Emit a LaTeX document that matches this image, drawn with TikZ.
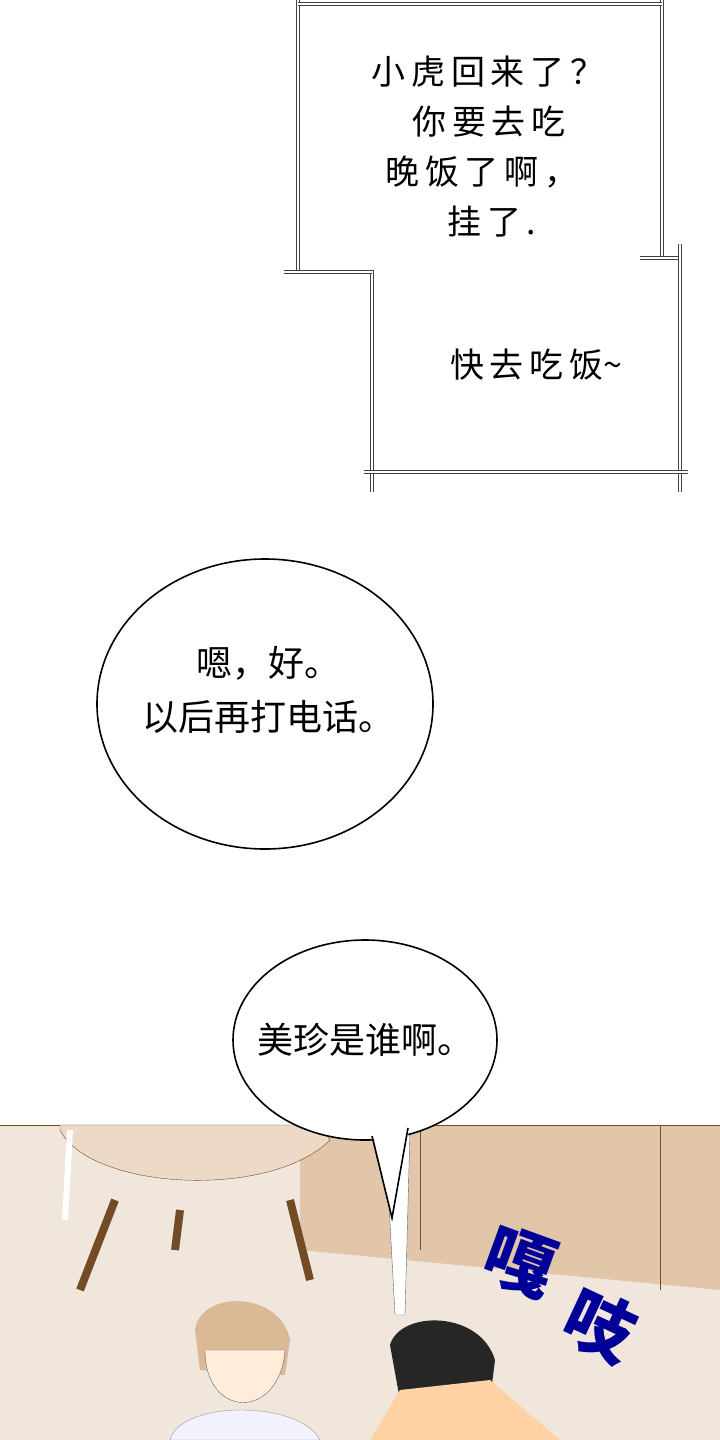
\documentclass[tikz,border=0pt]{standalone}
\usepackage{fontspec}
\newfontfamily\cjk{Noto Sans CJK SC}
\begin{document}
\begin{tikzpicture}[x=1pt,y=-1pt,
  txt/.style={font=\cjk\fontsize{34}{38}\selectfont,align=center,inner sep=0},
  btxt/.style={font=\cjk\fontsize{36}{54}\selectfont,align=center,inner sep=0},
  frame/.style={draw=black!75,line width=1.2pt,double=white,double distance=2.5pt},
  bubble/.style={draw=black,line width=1.6pt,fill=white},
  sfx/.style={font=\cjk\bfseries\fontsize{70}{70}\selectfont,text=blue!60!black}]
\useasboundingbox (0,0) rectangle (720,1440);
\fill[white] (0,0) rectangle (720,1440);
% top caption frames
\draw[frame] (298,0) -- (298,272) -- (372,272) -- (372,492);
\draw[frame] (662,0) -- (662,258);
\draw[frame] (298,4) -- (662,4);
\draw[frame] (284,272) -- (372,272);
\draw[frame] (640,258) -- (682,258);
\draw[frame] (680,244) -- (680,492);
\draw[frame] (364,472) -- (688,472);
\node[txt] (t1) at (488,72) {小\,虎\,回\,来\,了\,？};
\node[txt] (t2) at (489,122) {你\,要\,去\,吃};
\node[txt] (t3) at (482,172) {晚\,饭\,了\,啊\,，};
\node[txt] (t4) at (492,222) {挂\,了\,.};
\node[txt] (t5) at (536,365) {快\,去\,吃\,饭\textasciitilde};
% bubble 1
\draw[bubble] (265,704) ellipse [x radius=168, y radius=145];
\node[btxt] (b1t) at (268,690) {嗯，好。\\以后再打电话。};
% bottom scene
\fill[black!10!brown!18] (0,1125) rectangle (720,1440);
\fill[brown!45!white] (300,1125) -- (720,1125) -- (720,1290) -- (300,1250) -- cycle;
\draw[brown!60!black,line width=0.8pt] (0,1125) -- (720,1125);
\draw[brown!60!black] (420,1125) -- (420,1250) (660,1125) -- (660,1290);
\fill[brown!30!white,draw=brown!60!black] (60,1130) .. controls (90,1190) and (270,1200) .. (330,1140) -- (320,1125) -- (60,1125) -- cycle;
\draw[brown!60!black,line width=8pt] (115,1200) -- (80,1290) (290,1200) -- (310,1280) (180,1210) -- (175,1250);
\draw[white,line width=6pt] (70,1130) -- (65,1220);
\fill[white,draw=black!60] (385,1130) -- (410,1130) -- (405,1315) -- (395,1315) -- cycle;
% characters (simplified)
\fill[brown!55!white] (195,1330) .. controls (200,1290) and (280,1290) .. (290,1340) -- (285,1375) -- (200,1370) -- cycle;
\fill[orange!15!white,draw=black!60] (205,1350) .. controls (205,1420) and (280,1420) .. (285,1350) -- cycle;
\fill[blue!5!white,draw=black!40] (170,1440) .. controls (180,1400) and (300,1400) .. (320,1440) -- cycle;
\fill[black!85] (390,1345) .. controls (400,1310) and (480,1310) .. (495,1360) -- (490,1400) -- (400,1400) -- cycle;
\fill[orange!35!white] (400,1390) -- (490,1380) -- (560,1440) -- (370,1440) -- cycle;
% bubble 2
\draw[bubble] (365,1040) ellipse [x radius=132, y radius=100];
\fill[white] (372,1130) -- (392,1218) -- (410,1125) -- cycle;
\draw[black,line width=1.6pt] (372,1136) -- (392,1218) -- (408,1128);
\node[btxt] (b2t) at (365,1040) {美珍是谁啊。};
% sfx
\node[sfx,rotate=-20] (sfx1) at (520,1262) {嘎};
\node[sfx,rotate=-25] (sfx2) at (600,1325) {吱};
\end{tikzpicture}
\end{document}
